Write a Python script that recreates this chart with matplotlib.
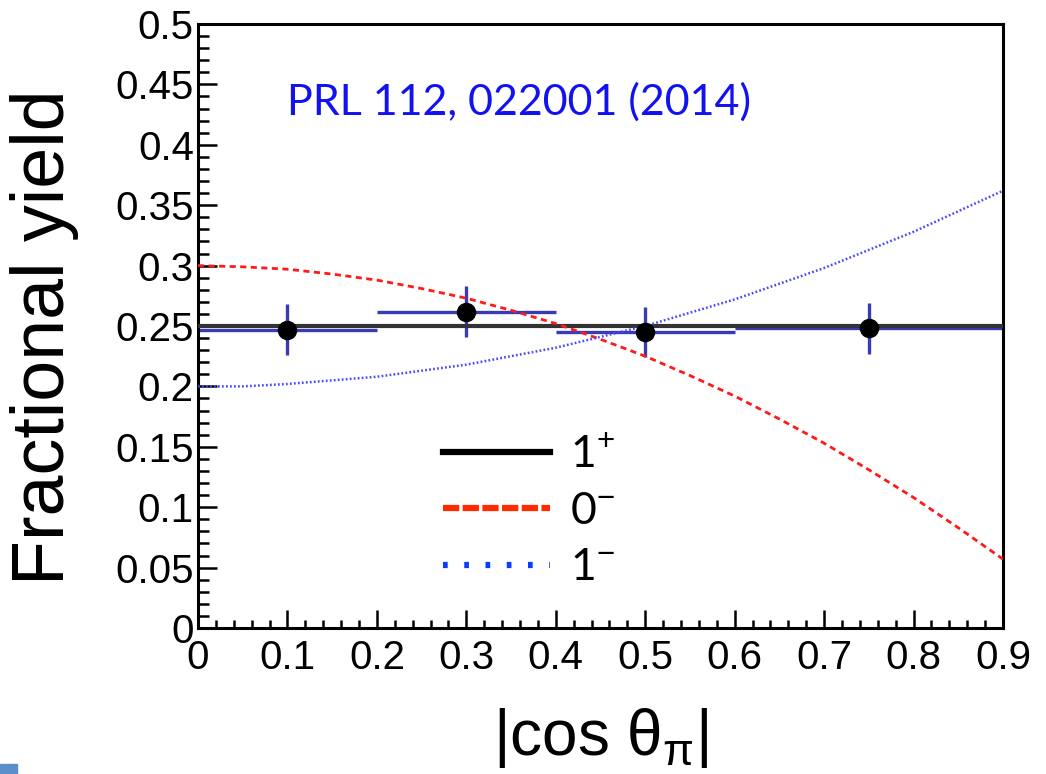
import matplotlib.pyplot as plt
import matplotlib.lines as mlines
import matplotlib.patches as mpatches
import numpy as np

plt.rcParams['font.family'] = ['Liberation Sans', 'DejaVu Sans']
plt.rcParams['mathtext.fontset'] = 'custom'
plt.rcParams['mathtext.rm'] = 'Liberation Sans'
plt.rcParams['mathtext.it'] = 'Liberation Sans'

# measured fractional yields per |cos theta_pi| bin
bin_lo = [0.0, 0.2, 0.4, 0.6]
bin_hi = [0.2, 0.4, 0.6, 0.9]
bin_x = [0.1, 0.3, 0.5, 0.75]
yield_val = [0.247, 0.262, 0.245, 0.248]
yield_err = [0.021, 0.021, 0.021, 0.021]

# spin-parity hypotheses
cos_grid = [0.0, 0.05, 0.1, 0.15, 0.2, 0.25, 0.3, 0.35, 0.4, 0.45,
            0.5, 0.55, 0.6, 0.65, 0.7, 0.75, 0.8, 0.85, 0.9]
hyp_1p = [0.25] * len(cos_grid)
hyp_0m = [0.300, 0.299, 0.297, 0.293, 0.288, 0.281, 0.273, 0.263, 0.252, 0.239,
          0.225, 0.209, 0.192, 0.173, 0.153, 0.131, 0.108, 0.083, 0.057]
hyp_1m = [0.200, 0.200, 0.202, 0.205, 0.208, 0.213, 0.218, 0.225, 0.232, 0.241,
          0.250, 0.261, 0.272, 0.285, 0.298, 0.313, 0.328, 0.345, 0.362]

fig = plt.figure(figsize=(10.46, 7.74), dpi=100)
ax = fig.add_axes([198 / 1046, 146 / 774, 805 / 1046, 604 / 774])

ax.plot(cos_grid, hyp_1p, color='#333333', lw=3.0, zorder=3)
ax.plot(cos_grid, hyp_0m, color='#ff1a1a', lw=2.0, dashes=(2.2, 1.6), zorder=3)
ax.plot(cos_grid, hyp_1m, color='#4848ff', lw=1.8, dashes=(0.7, 0.9), zorder=3)

x = np.array(bin_x)
xerr = [x - np.array(bin_lo), np.array(bin_hi) - x]
ax.errorbar(bin_x, yield_val, xerr=xerr, yerr=yield_err, fmt='none',
            ecolor='#3a3ab4', elinewidth=2.4, capsize=0, zorder=2)
ax.plot(bin_x, yield_val, 'o', color='black', ms=13, zorder=4)

ax.set_xlim(0, 0.9)
ax.set_ylim(0, 0.5)
ax.set_xticks(np.arange(0, 0.91, 0.1))
ax.set_xticklabels(['0', '0.1', '0.2', '0.3', '0.4', '0.5', '0.6', '0.7', '0.8', '0.9'])
ax.set_yticks(np.arange(0, 0.51, 0.05))
ax.set_yticklabels(['0', '0.05', '0.1', '0.15', '0.2', '0.25', '0.3', '0.35',
                    '0.4', '0.45', '0.5'])
ax.set_xticks(np.arange(0, 0.9, 0.02), minor=True)
ax.set_yticks(np.arange(0, 0.5, 0.01), minor=True)
ax.tick_params(which='both', direction='in', top=False, right=False,
               width=1.8, labelsize=29)
ax.tick_params(axis='x', which='major', length=13, pad=8)
ax.tick_params(axis='x', which='minor', length=6)
ax.tick_params(axis='y', which='major', length=14, pad=3)
ax.tick_params(axis='y', which='minor', length=8)
for sp in ax.spines.values():
    sp.set_linewidth(2.2)

fig.text(45 / 1046, 1 - 337 / 774, 'Fractional yield', rotation=90,
         ha='center', va='center', fontsize=53)
fig.text(601 / 1046, 1 - 738 / 774, r'|cos θ$_{\pi}$|',
         ha='center', va='center', fontsize=46)

fig.text(519 / 1046, 1 - 102 / 774, 'PRL 112, 022001 (2014)', color='#1212f0',
         ha='center', va='center', fontsize=31, family=['Lato', 'DejaVu Sans'])

handles = [
    mlines.Line2D([], [], color='black', lw=4.5),
    mlines.Line2D([], [], color='#ff2a00', lw=4.5, dashes=(2.6, 0.55)),
    mlines.Line2D([], [], color='#0a3cff', lw=4.5, dashes=(0.75, 2.65)),
]
labels = ['1$^{+}$', '0$^{-}$', '1$^{-}$']
leg = fig.legend(handles, labels, loc='upper left',
                 bbox_to_anchor=(421 / 1046, 1 - 412 / 774),
                 frameon=False, handlelength=2.4,
                 handletextpad=0.45, labelspacing=0.35, borderpad=0,
                 prop={'family': ['Lato', 'DejaVu Sans'], 'size': 32})

fig.patches.append(mpatches.Rectangle((0, 0), 17 / 1046, 10 / 774,
                                      transform=fig.transFigure,
                                      color='#5b8fcc'))

fig.savefig('out.png', dpi=100)
